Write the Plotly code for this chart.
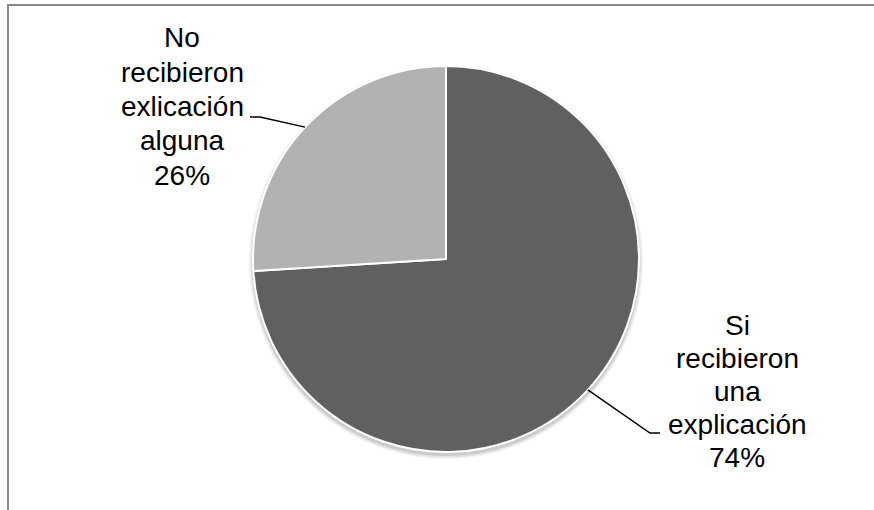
import math
import plotly.graph_objects as go

# Survey answers: did they receive an explanation?
labels = ["Si recibieron una explicación", "No recibieron exlicación alguna"]
label_lines = [
    ["Si", "recibieron", "una", "explicación"],
    ["No", "recibieron", "exlicación", "alguna"],
]
values = [74, 26]
colors = ["#606060", "#b2b2b2"]

W, H = 874, 510
CX, CY, R = 446, 259, 193  # pie centre and radius in pixels


def px(x):
    return x / W


def py(y):
    return 1 - y / H


fig = go.Figure(
    go.Pie(
        labels=labels,
        values=values,
        sort=False,
        direction="clockwise",
        rotation=0,
        marker=dict(colors=colors, line=dict(color="white", width=2)),
        textinfo="none",
        hoverinfo="skip",
        showlegend=False,
        domain=dict(x=[px(CX - R), px(CX + R)], y=[py(CY + R), py(CY - R)]),
    )
)

shapes = []

# soft drop shadow under the pie
for dr, op in [(4, 0.05), (2.5, 0.07), (1, 0.09)]:
    shapes.append(dict(
        type="circle", xref="paper", yref="paper", layer="below",
        x0=px(CX - R - dr), x1=px(CX + R + dr),
        y0=py(CY + 3 + R + dr), y1=py(CY + 3 - R - dr),
        fillcolor=f"rgba(0,0,0,{op})", line=dict(width=0),
    ))

# chart frame
shapes.append(dict(
    type="rect", xref="paper", yref="paper",
    x0=px(8), x1=px(W + 10), y0=py(H + 10), y1=py(5),
    line=dict(color="#888888", width=2), fillcolor="rgba(0,0,0,0)",
))

# label blocks: centre x, first-line y, line step, leader geometry
label_cfg = [
    dict(x=737, y0=325, step=33, edge_angle=math.radians(42.7),
         elbow=(650, 433), end=(660, 433)),
    dict(x=182, y0=38, step=34.3, edge_angle=math.radians(180 + 43.1),
         elbow=(260, 117), end=(250, 117)),
]

annotations = []
for i, cfg in enumerate(label_cfg):
    lines = label_lines[i] + [f"{values[i] * 100 // sum(values)}%"]
    for k, t in enumerate(lines):
        annotations.append(dict(
            text=t, x=px(cfg["x"]), y=py(cfg["y0"] + k * cfg["step"]),
            xref="paper", yref="paper", showarrow=False,
            xanchor="center", yanchor="middle",
            font=dict(family="Liberation Sans, Arial", size=28, color="#000000"),
        ))
    a = cfg["edge_angle"]
    sx = CX + R * math.cos(a)
    sy = CY + R * math.sin(a)
    ex, ey = cfg["elbow"]
    fx, fy = cfg["end"]
    shapes.append(dict(
        type="path", xref="paper", yref="paper",
        path=f"M {px(sx)},{py(sy)} L {px(ex)},{py(ey)} L {px(fx)},{py(fy)}",
        line=dict(color="#000000", width=1.5),
    ))

fig.update_layout(
    width=W, height=H,
    margin=dict(l=0, r=0, t=0, b=0),
    paper_bgcolor="white", plot_bgcolor="white",
    shapes=shapes, annotations=annotations,
)

fig.write_html("out.html")
